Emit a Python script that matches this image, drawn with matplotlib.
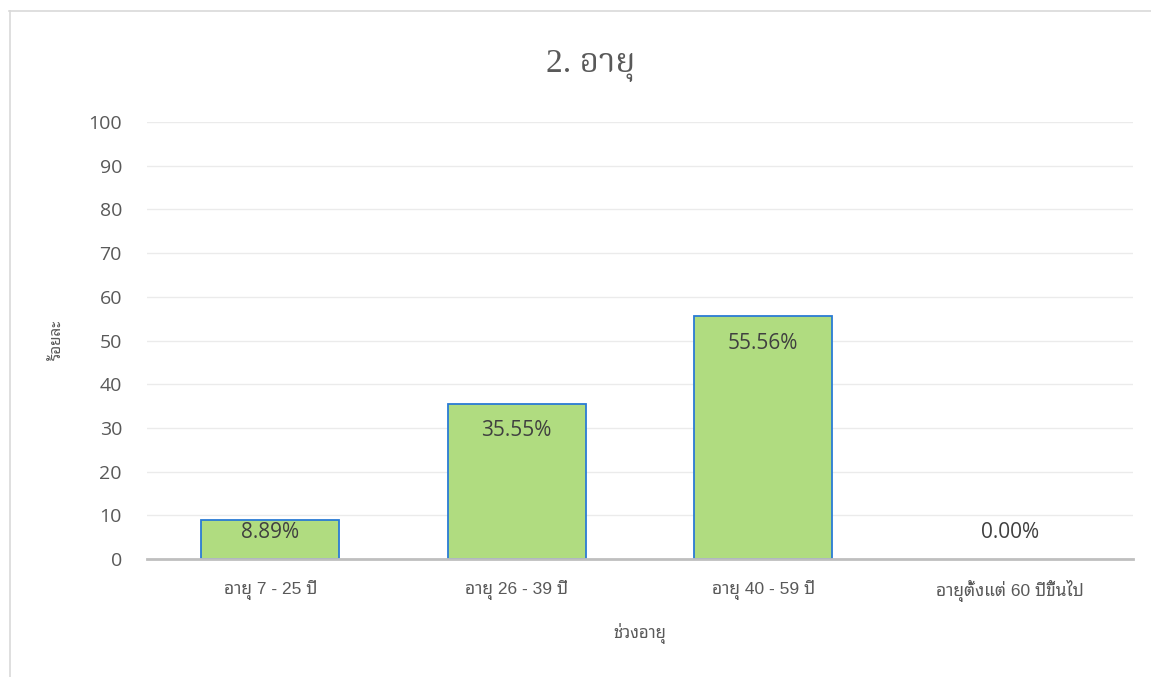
import matplotlib
matplotlib.use("Agg")
import matplotlib.pyplot as plt
from matplotlib.lines import Line2D

# Age groups and share of respondents (percent)
categories = ["อายุ 7 - 25 ปี", "อายุ 26 - 39 ปี", "อายุ 40 - 59 ปี", "อายุตั้งแต่ 60 ปีขึ้นไป"]
values = [8.89, 35.55, 55.56, 0.00]
value_labels = ["8.89%", "35.55%", "55.56%", "0.00%"]
y_ticks = [0, 10, 20, 30, 40, 50, 60, 70, 80, 90, 100]

title = "2. อายุ"
x_title = "ช่วงอายุ"
y_title = "ร้อยละ"

TEXT = "#595959"
NUM_FONT = ["Open Sans", "Noto Sans Thai Looped"]
THAI_FONT = ["Liberation Sans", "Noto Sans Thai Looped"]
SERIF_FONT = ["Liberation Serif", "Noto Serif Thai"]

W, H = 1151, 677
fig = plt.figure(figsize=(W / 100, H / 100), dpi=100)
fig.patch.set_facecolor("white")

# chart-area frame (top and left edges)
fig.add_artist(Line2D([9 / W, 1], [1 - 11 / H, 1 - 11 / H], color="#D9D9D9", lw=1.2))
fig.add_artist(Line2D([9.5 / W, 9.5 / W], [0, 1 - 11 / H], color="#D9D9D9", lw=1.2))

left, right = 147 / W, 1133 / W
bottom, top = 1 - 559 / H, 1 - 122 / H
ax = fig.add_axes([left, bottom, right - left, top - bottom])

x = list(range(len(categories)))
edge_widths = [1.3 if v > 0 else 0 for v in values]
ax.bar(x, values, width=0.56, color="#B0DC80", edgecolor="#2A7BD4",
       linewidth=edge_widths, zorder=3)

ax.set_xlim(-0.5, len(categories) - 0.5)
ax.set_ylim(0, 100)
ax.set_yticks(y_ticks)
ax.set_xticks(x)
ax.set_xticklabels(categories, family=THAI_FONT, fontsize=12.5, color=TEXT)
ax.set_yticklabels([str(t) for t in y_ticks], family=NUM_FONT, fontsize=14, color=TEXT)
ax.tick_params(axis="y", length=0, pad=18)
ax.tick_params(axis="x", length=0, pad=15)

ax.grid(axis="y", color="#EBEBEB", linewidth=1.0, zorder=0)
ax.set_axisbelow(True)
for s in ["top", "right", "left"]:
    ax.spines[s].set_visible(False)
ax.spines["bottom"].set_color("#BFBFBF")
ax.spines["bottom"].set_linewidth(2.0)
ax.spines["bottom"].set_zorder(4)

# value labels just inside the bar top, kept clear of the baseline
for xi, v, lab in zip(x, values, value_labels):
    ly = max(v - 6.2, 6.0)
    ax.text(xi, ly, lab, ha="center", va="center", family=NUM_FONT,
            fontsize=15, color="#404040", zorder=5)

fig.text(591 / W, 1 - 66 / H, title, ha="center", va="center",
         family=SERIF_FONT, fontsize=24, color=TEXT)
fig.text(640 / W, 1 - 634 / H, x_title, ha="center", va="center",
         family=THAI_FONT, fontsize=12, color=TEXT)
fig.text(58 / W, 1 - 340 / H, y_title, ha="center", va="center", rotation=90,
         family=THAI_FONT, fontsize=11, color=TEXT)

fig.savefig("out.png", dpi=100, facecolor="white")
